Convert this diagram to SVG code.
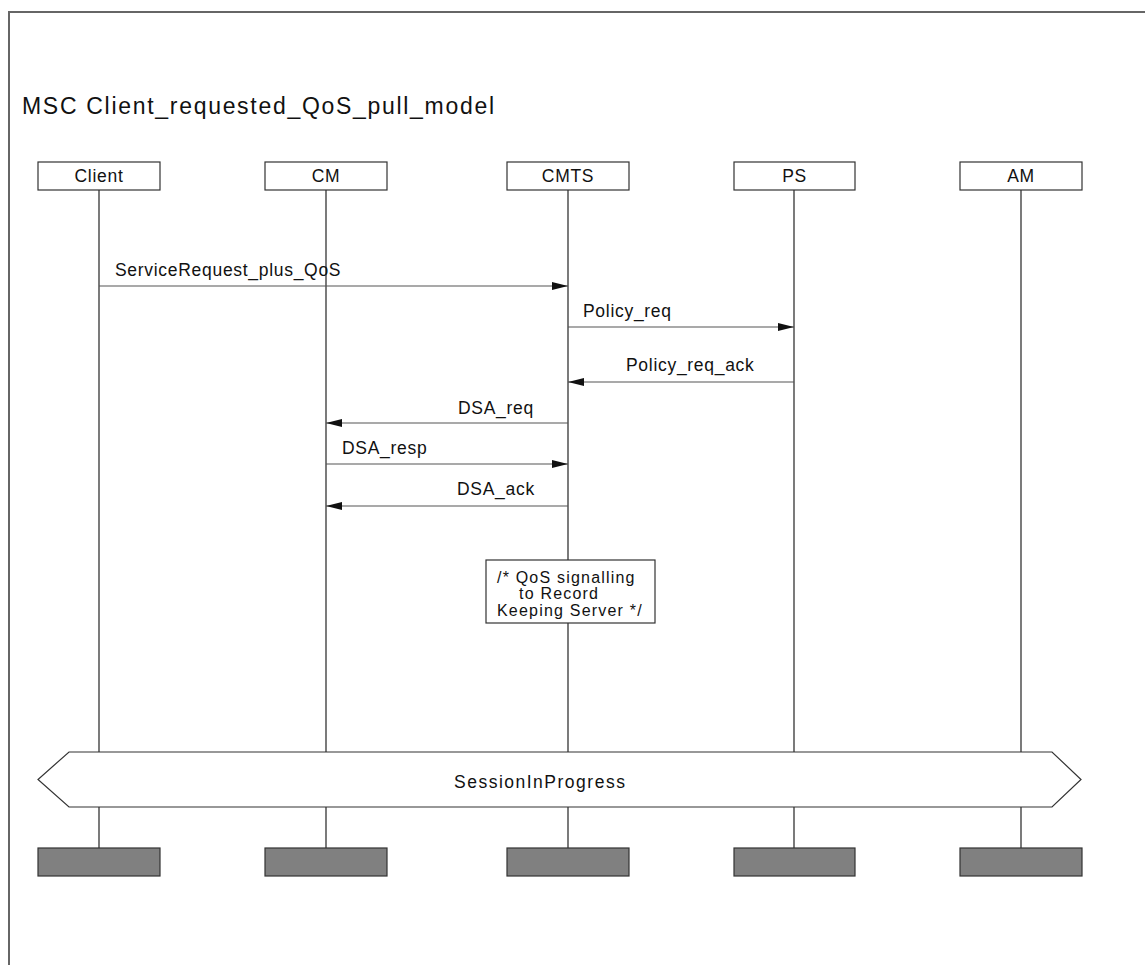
<svg xmlns="http://www.w3.org/2000/svg" width="1145" height="965" viewBox="0 0 1145 965">
<style>
text{font-family:"Liberation Sans",Arial,sans-serif;fill:#111;font-size:17.5px;letter-spacing:0.7px}
.title{font-size:23px;letter-spacing:1.7px}
.note{font-size:16px;letter-spacing:1.2px}
.box{fill:#fff;stroke:#333;stroke-width:1.2}
.end{fill:#808080;stroke:#333;stroke-width:1.2}
.life{stroke:#222;stroke-width:1.2}
.msg{stroke:#555;stroke-width:1.2;fill:none;marker-end:url(#ah)}
.mid{text-anchor:middle}
</style>
<defs>
<marker id="ah" markerUnits="userSpaceOnUse" markerWidth="18" markerHeight="10" refX="16" refY="4.5" orient="auto">
<path d="M0,0.5 L16,4.5 L0,8.5 Z" fill="#111"/>
</marker>
</defs>
<rect x="9" y="12" width="1200" height="1000" fill="none" stroke="#666" stroke-width="2"/>
<text class="title" x="22" y="114">MSC Client_requested_QoS_pull_model</text>
<g id="lifelines">
<line class="life" x1="99" y1="190" x2="99" y2="848"/>
<line class="life" x1="326" y1="190" x2="326" y2="848"/>
<line class="life" x1="568" y1="190" x2="568" y2="848"/>
<line class="life" x1="794" y1="190" x2="794" y2="848"/>
<line class="life" x1="1021" y1="190" x2="1021" y2="848"/>
</g>
<g id="connectors">
<line class="msg" x1="99" y1="286" x2="568" y2="286"/>
<text x="115" y="276">ServiceRequest_plus_QoS</text>
<line class="msg" x1="568" y1="327" x2="794" y2="327"/>
<text x="583" y="317">Policy_req</text>
<line class="msg" x1="794" y1="382" x2="568" y2="382"/>
<text x="626" y="371">Policy_req_ack</text>
<line class="msg" x1="568" y1="423" x2="326" y2="423"/>
<text x="458" y="414">DSA_req</text>
<line class="msg" x1="326" y1="464" x2="568" y2="464"/>
<text x="342" y="454">DSA_resp</text>
<line class="msg" x1="568" y1="506" x2="326" y2="506"/>
<text x="457" y="495">DSA_ack</text>
</g>
<g id="client"><rect class="box" x="38" y="162" width="122" height="28"/><text class="mid" x="99" y="182">Client</text></g>
<g id="cm"><rect class="box" x="265" y="162" width="122" height="28"/><text class="mid" x="326" y="182">CM</text></g>
<g id="cmts"><rect class="box" x="507" y="162" width="122" height="28"/><text class="mid" x="568" y="182">CMTS</text></g>
<g id="ps"><rect class="box" x="734" y="162" width="121" height="28"/><text class="mid" x="794.5" y="182">PS</text></g>
<g id="am"><rect class="box" x="960" y="162" width="122" height="28"/><text class="mid" x="1021" y="182">AM</text></g>
<g id="note">
<rect class="box" x="486" y="560" width="169" height="63"/>
<text class="note" x="497" y="583">/* QoS signalling</text>
<text class="note" x="519" y="599">to Record</text>
<text class="note" x="497" y="616">Keeping Server */</text>
</g>
<g id="condition">
<polygon class="box" points="69,752 1052,752 1081,779.5 1052,807 69,807 38,779.5"/>
<text x="454" y="788" style="letter-spacing:1.5px">SessionInProgress</text>
</g>
<g id="ends">
<rect class="end" x="38" y="848" width="122" height="28"/>
<rect class="end" x="265" y="848" width="122" height="28"/>
<rect class="end" x="507" y="848" width="122" height="28"/>
<rect class="end" x="734" y="848" width="121" height="28"/>
<rect class="end" x="960" y="848" width="122" height="28"/>
</g>
</svg>
